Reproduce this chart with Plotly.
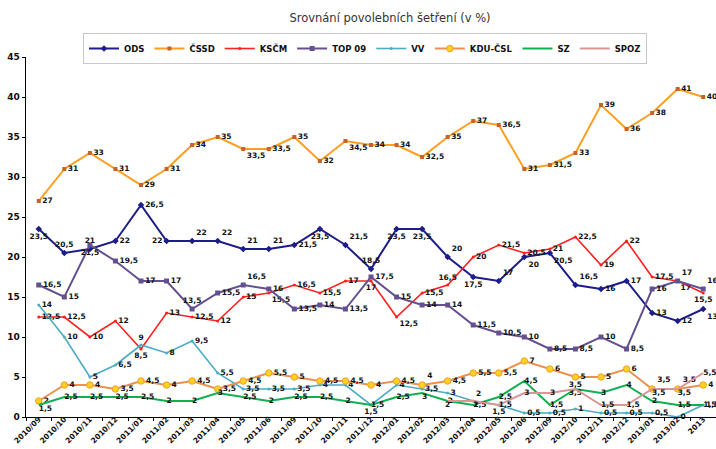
import plotly.graph_objects as go

# ---------------- data ----------------
categories = ["2010/09", "2010/10", "2010/11", "2010/12", "2011/01", "2011/02", "2011/03",
              "2011/04", "2011/05", "2011/06", "2011/09", "2011/10", "2011/11", "2011/12",
              "2012/01", "2012/02", "2012/03", "2012/04", "2012/05", "2012/06", "2012/09",
              "2012/10", "2012/11", "2012/12", "2013/01", "2013/02", "2013"]

ods = [23.5, 20.5, 21, 22, 26.5, 22, 22, 22, 21, 21, 21.5, 23.5, 21.5, 18.5, 23.5, 23.5,
       20, 17.5, 17, 20, 20.5, 16.5, 16, 17, 13, 12, 13.5]
cssd = [27, 31, 33, 31, 29, 31, 34, 35, 33.5, 33.5, 35, 32, 34.5, 34, 34, 32.5, 35, 37,
        36.5, 31, 31.5, 33, 39, 36, 38, 41, 40]
kscm = [12.5, 12.5, 10, 12, 8.5, 13, 12.5, 12, 15, 15.5, 16.5, 15.5, 17, 17, 12.5, 15.5,
        16.5, 20, 21.5, 20.5, 21, 22.5, 19, 22, 17.5, 17, 15.5]
top09 = [16.5, 15, 21.5, 19.5, 17, 17, 13.5, 15.5, 16.5, 16, 13.5, 14, 13.5, 17.5, 15, 14,
         14, 11.5, 10.5, 10, 8.5, 8.5, 10, 8.5, 16, 17, 16]
vv = [14, 10, 5, 6.5, 9, 8, 9.5, 5.5, 3.5, 3.5, 3.5, 4, 4, 1.5, 4, 3.5, 3, 2, 1.5, 0.5,
      0.5, 1, 0.5, 0.5, 0.5, 0, 1.5]
kdu = [2, 4, 4, 3.5, 4.5, 4, 4.5, 3.5, 4.5, 5.5, 5, 4.5, 4.5, 4, 4.5, 4, 4.5, 5.5, 5.5, 7,
       6, 5, 5, 6, 3.5, 3.5, 4]
sz = [1.5, 2.5, 2.5, 2.5, 2.5, 2, 2, 3, 2.5, 2, 2.5, 2.5, 2, 1.5, 2.5, 3, 2, 1.5, 2.5, 4.5,
      1.5, 3.5, 3, 4, 2, 1.5, 1.5]
spoz = [None] * 16 + [2, 2, 1.5, 3, 3, 3.5, 1.5, 1.5, 3.5, 3.5, 5.5]

# ---------------- label placement (style) ----------------
P = {"R": "middle right", "L": "middle left", "T": "top center", "B": "bottom center",
     "TR": "top right", "BR": "bottom right", "TL": "top left", "BL": "bottom left"}

pos_ods = ["B", "T", "T", "R", "R", "L", "TR", "TR", "TR", "TR", "R", "B", "TR", "T", "B", "B",
           "TR", "B", "TR", "BR", "BR", "TR", "R", "R", "R", "R", "BR"]
pos_cssd = ["R"] * 27
pos_cssd[8] = "BR"
pos_cssd[12] = "BR"
pos_kscm = ["R", "R", "R", "R", "B", "R", "R", "R", "R", "BR", "R", "R", "R", "B", "BR", "R",
            "T", "R", "R", "R", "R", "R", "R", "R", "R", "BR", "B"]
pos_top = ["R", "R", "B", "R", "R", "R", "T", "R", "TR", "R", "R", "R", "R", "R", "R", "R",
           "R", "R", "R", "R", "R", "R", "R", "R", "R", "TR", "TR"]
pos_vv = ["R"] * 27
pos_vv[4] = "T"
pos_vv[13] = "B"
pos_vv[17] = "TR"
pos_vv[18] = "B"
pos_kdu = ["R"] * 27
pos_kdu[15] = "TR"
pos_kdu[24] = "TR"
pos_kdu[25] = "TR"
pos_sz = ["R"] * 27
pos_sz[0] = "BR"
pos_sz[15] = "BR"
pos_sz[21] = "B"
pos_spoz = ["R"] * 27
pos_spoz[16] = "B"
pos_spoz[17] = "BR"
pos_spoz[21] = "T"
pos_spoz[24] = "BR"
pos_spoz[25] = "BR"


def lab(vals):
    return ["" if v is None else f"{v:g}".replace(".", ",") for v in vals]


FONT = "DejaVu Sans, Verdana, sans-serif"
label_font = dict(family=FONT, size=7.5, color="#111111", weight="bold")

series = [
    ("ODS", ods, pos_ods, "#1c1c8a", 2, dict(symbol="diamond", size=5, color="#1c1c8a")),
    ("ČSSD", cssd, pos_cssd, "#ff9e1f", 2, dict(symbol="square", size=4, color="#c8622a")),
    ("KSČM", kscm, pos_kscm, "#ff1f1f", 1.6, dict(symbol="circle", size=3, color="#ff1f1f")),
    ("TOP 09", top09, pos_top, "#65508f", 2, dict(symbol="square", size=5, color="#65508f")),
    ("VV", vv, pos_vv, "#4bacc6", 1.6, dict(symbol="circle", size=3, color="#4bacc6")),
    ("KDU-ČSL", kdu, pos_kdu, "#ec9050", 2,
     dict(symbol="circle", size=6.5, color="#ffd21f", line=dict(color="#f0a030", width=1))),
    ("SZ", sz, pos_sz, "#10b050", 2, None),
    ("SPOZ", spoz, pos_spoz, "#d99694", 2, None),
]

fig = go.Figure()
for name, vals, pos, color, width, marker in series:
    kw = {}
    if marker is not None:
        kw["marker"] = marker
        mode = "lines+markers+text"
    else:
        mode = "lines+text"
    fig.add_trace(go.Scatter(
        x=categories, y=vals, name=name, mode=mode,
        line=dict(color=color, width=width),
        text=lab(vals), textposition=[P[p] for p in pos],
        textfont=label_font, cliponaxis=False, hoverinfo="skip",
        connectgaps=False, **kw))

fig.update_layout(
    width=716, height=449,
    margin=dict(l=26, r=0, t=57, b=32, autoexpand=False),
    paper_bgcolor="white", plot_bgcolor="white",
    title=dict(text="Srovnání povolebních šetření (v %)",
               font=dict(family=FONT, size=11.5, color="#333333"),
               x=390 / 716, xref="container", xanchor="center",
               y=1 - 18 / 449, yref="container", yanchor="middle"),
    legend=dict(orientation="h", xref="container", yref="container",
                x=365 / 716, xanchor="center", y=1 - 33 / 449, yanchor="top",
                bordercolor="#c8c8c8", borderwidth=1, bgcolor="white",
                itemwidth=30, tracegroupgap=0,
                font=dict(family=FONT, size=8.5, color="#111111", weight="bold"),
                itemclick=False),
    showlegend=True,
)
fig.update_xaxes(type="category", categoryorder="array", categoryarray=categories,
                 range=[-0.5, len(categories) - 0.5], autorange=False,
                 tickson="boundaries", ticks="outside", ticklen=3, tickcolor="black",
                 showline=True, linecolor="black", linewidth=1, showgrid=False,
                 tickangle=-45, automargin=False, ticklabelstandoff=-6,
                 tickfont=dict(family=FONT, size=7.5, color="#111111", weight="bold"))
fig.update_yaxes(range=[0, 45], autorange=False, dtick=5, ticks="outside", ticklen=3,
                 tickcolor="black", showline=True, linecolor="black", linewidth=1.5,
                 showgrid=False, zeroline=False, automargin=False,
                 tickfont=dict(family=FONT, size=9, color="#111111", weight="bold"))

fig.write_html("out.html",
               config={"displayModeBar": False, "staticPlot": True},
               post_script="document.body.style.margin='0';document.body.style.overflow='hidden';")
